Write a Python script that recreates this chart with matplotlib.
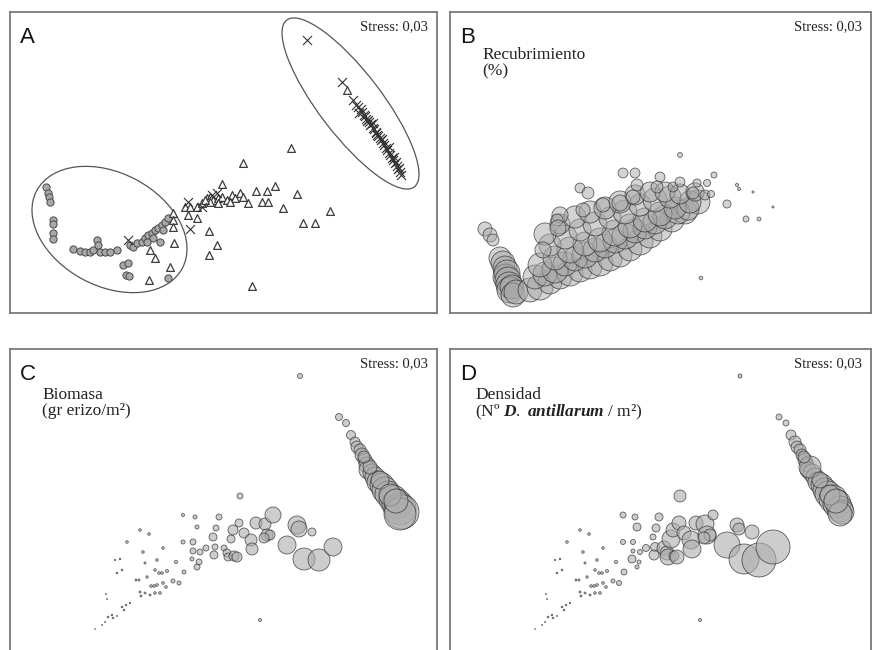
import matplotlib
matplotlib.use("Agg")
import matplotlib.pyplot as plt
from matplotlib.patches import Ellipse
import numpy as np

W, H, DPI = 872, 650, 100
PX = 72.0 / DPI  # points per pixel

# ---------------- Panel A: nMDS ordination by group ----------------
# coordinates in panel units (x to the right, y downwards)
a_circ_x = [36, 38, 39, 40, 43, 43, 43, 43,
            63, 70, 75, 80, 83, 87, 88, 90, 95, 100, 107,
            120, 123, 127, 132, 135, 138, 142, 145, 148, 152, 155, 158, 153, 137, 143, 150,
            113, 118, 116, 119, 158]
a_circ_y = [175, 181, 185, 190, 208, 212, 221, 227,
            237, 239, 240, 240, 238, 228, 233, 240, 240, 240, 238,
            233, 235, 231, 230, 226, 223, 221, 218, 216, 213, 210, 206, 218, 230, 226, 230,
            253, 251, 263, 264, 266]
a_tri_x = [163, 163, 163, 164, 160, 139, 140, 145,
           175, 180, 187, 178, 187, 192, 197, 200, 203, 208, 212, 212, 217, 222, 225,
           230, 233, 238, 246, 257, 265, 252, 258, 273, 287, 293, 305, 320, 233, 281,
           199, 207, 199, 242, 337, 220, 208, 200, 195]
a_tri_y = [201, 208, 215, 231, 255, 268, 238, 246,
           195, 195, 195, 203, 206, 191, 186, 185, 188, 186, 172, 185, 188, 183, 186,
           181, 185, 191, 179, 179, 174, 190, 190, 196, 182, 211, 211, 199, 151, 136,
           219, 233, 243, 274, 78, 190, 191, 190, 188]
a_cross_x = [178, 180, 207, 192, 202, 118,
             297, 332, 343, 346, 348, 351, 352, 354, 355, 356, 358, 359, 360, 361, 363,
             364, 366, 367, 368, 370, 371, 373, 374, 376, 377, 379, 380, 382, 383, 385,
             387, 388, 390, 391, 349, 357, 363, 366, 372, 379, 384, 386, 389]
a_cross_y = [190, 217, 181, 195, 183, 228,
             28, 70, 88, 93, 95, 97, 100, 103, 104, 107, 108, 110, 113, 112, 116,
             117, 120, 123, 124, 126, 128, 131, 133, 136, 138, 141, 143, 146, 148, 151,
             154, 157, 160, 163, 101, 109, 111, 121, 127, 135, 145, 150, 156]
# group envelopes: centre x, centre y, width, height, angle
a_env_cx = [99.5, 340.5]
a_env_cy = [217.5, 91.5]
a_env_w = [165, 210]
a_env_h = [113, 63]
a_env_ang = [28, 52.6]

# ---------------- Panel B: cover (%) bubbles ----------------
b_x = [35, 40, 43,
       50, 53, 55, 56, 57, 58, 59, 60, 62, 63, 66,
       80, 90, 100, 110, 120, 130, 140, 150, 160, 170, 180, 190, 200, 210, 222, 235, 248,
       85, 95, 105, 115, 125, 135, 145, 155, 165, 175, 185, 195, 205, 215, 228, 238,
       90, 105, 120, 135, 150, 165, 180, 195, 210, 225, 240,
       100, 115, 130, 145, 160, 175, 190, 205, 220,
       95, 110, 125, 140, 155, 170, 185, 200, 215, 230, 245,
       130, 138, 153, 133, 110, 107, 108, 93, 173, 185, 187, 210, 207, 183, 170, 223, 230,
       243, 247, 257, 255, 261, 264, 230, 277, 296, 309, 287, 289, 303, 323, 251]
b_y = [217, 223, 228,
       246, 251, 256, 265, 261, 268, 273, 278, 275, 283, 280,
       278, 275, 270, 265, 261, 258, 255, 251, 247, 243, 237, 230, 224, 217, 208, 200, 190,
       265, 262, 258, 252, 247, 243, 238, 234, 229, 224, 219, 215, 210, 205, 200, 197,
       253, 246, 238, 232, 228, 221, 214, 208, 202, 196, 190,
       233, 225, 218, 212, 206, 200, 193, 188, 185,
       222, 212, 205, 200, 196, 190, 183, 180, 180, 182, 180,
       176, 181, 193, 198, 203, 208, 216, 238, 161, 161, 173, 165, 175, 185, 191, 175, 170,
       181, 171, 171, 183, 182, 163, 143, 192, 207, 207, 173, 177, 180, 195, 266]
b_cover = [54, 54, 46,
           85, 92, 92, 100, 100, 100, 100, 100, 92, 92, 92,
           92, 100, 92, 92, 100, 92, 92, 100, 92, 92, 92, 100, 92, 92, 92, 92, 92,
           92, 92, 100, 92, 92, 100, 92, 92, 92, 100, 92, 92, 92, 92, 92, 85,
           92, 92, 100, 92, 92, 100, 92, 92, 92, 85, 85,
           85, 92, 85, 92, 85, 92, 85, 92, 85,
           85, 77, 85, 85, 85, 85, 77, 77, 77, 77, 70,
           38, 46, 54, 54, 62, 46, 62, 62, 38, 38, 46, 38, 46, 54, 62, 38, 38,
           46, 31, 27, 38, 27, 23, 19, 31, 23, 15, 12, 12, 8, 8, 14]

# ---------------- Panels C and D: shared ordination ----------------
cd_x = [329, 336, 341, 345, 347, 350, 352, 355, 357, 358, 362, 365, 368, 372, 375,
        378, 383, 387, 390, 392, 390, 360, 354, 370, 380, 386,
        290, 250,
        230, 209, 206, 203, 205, 204, 196, 190, 185, 173, 187, 183, 173, 183, 182, 189,
        187, 174, 169, 163, 214, 217, 218, 224, 227, 221, 223, 229, 234, 241, 242, 246,
        255, 257, 260, 263, 254, 277, 287, 289, 302, 294, 309, 323,
        130, 139, 117, 133, 153, 147, 135, 166, 110, 105, 112, 107, 145, 149, 152, 157,
        137, 126, 129, 141, 144, 147, 153, 156, 130, 135, 140, 145, 150, 131, 96, 97,
        112, 116, 114, 120, 102, 103, 98, 95, 92, 85, 107]
cd_y = [68, 74, 86, 93, 98, 101, 106, 111, 116, 121, 124, 128, 133, 136, 141,
        145, 150, 155, 160, 163, 165, 118, 108, 131, 146, 152,
        27, 271,
        147, 168, 179, 188, 198, 206, 199, 203, 168, 166, 178, 193, 193, 202, 210, 213,
        218, 223, 234, 232, 199, 204, 208, 207, 208, 190, 181, 174, 184, 191, 200, 174,
        175, 186, 186, 166, 189, 196, 176, 180, 183, 210, 211, 198,
        181, 185, 193, 203, 199, 211, 214, 213, 210, 211, 221, 224, 221, 224, 224, 222,
        228, 231, 231, 237, 237, 236, 234, 238, 243, 244, 246, 244, 244, 247, 245, 250,
        258, 256, 261, 254, 266, 269, 268, 273, 276, 280, 267]
cd_biomasa = [3.5, 3.5, 4.5, 5, 6, 6, 7, 7, 8, 9, 9, 10, 11, 12, 13,
              13, 14, 15, 16, 17, 16, 7, 6, 9, 11, 12,
              2.5, 1.5,
              3, 3, 3, 4, 3, 4, 3, 3, 2, 1.5, 2, 3, 2, 3, 2, 3,
              3, 2, 2, 2, 3, 4, 4, 5, 5, 4, 5, 4, 5, 6, 6, 6,
              6, 6, 5, 8, 5, 9, 9, 8, 4, 11, 11, 9,
              1.3, 1.3, 1.3, 1.3, 1.3, 1.3, 1, 1.5, 0.8, 0.6, 0.8, 0.8, 1.3, 1.3, 1.3, 1.5,
              1.2, 1, 1, 1.3, 1.3, 1.3, 1.3, 1.3, 1, 1, 1, 1.3, 1.3, 1, 0.5, 0.5,
              0.8, 0.8, 0.8, 0.7, 0.8, 0.8, 0.8, 0.5, 0.5, 0.4, 0.5]
cd_densidad = [3, 3, 5, 6, 6, 6, 6, 7, 7, 8, 9, 9, 10, 11, 12,
               13, 14, 14, 13, 12, 12, 11, 6, 8, 10, 12,
               2, 1.5,
               6, 4, 4, 3, 4.5, 5, 3.5, 2.5, 3, 3, 4, 2.5, 2.5, 2, 4, 2,
               2, 3, 2.5, 2, 7, 7, 8, 5, 7, 9, 7, 7, 7, 9, 9, 7,
               9, 9, 6, 5, 6, 13, 7, 6, 7, 15, 17, 17,
               1.3, 1.3, 1.3, 1.3, 1.3, 1.3, 1, 1.5, 0.8, 0.6, 0.8, 0.8, 1.3, 1.3, 1.3, 1.5,
               1.2, 1, 1, 1.3, 1.3, 1.3, 1.3, 1.3, 1, 1, 1, 1.3, 1.3, 1, 0.5, 0.5,
               0.8, 0.8, 0.8, 0.7, 0.8, 0.8, 0.8, 0.5, 0.5, 0.4, 0.5]

panel_letters = ["A", "B", "C", "D"]
stress_label = "Stress: 0,03"

plt.rcParams["font.family"] = ["Liberation Serif", "DejaVu Serif"]
plt.rcParams["mathtext.fontset"] = "custom"
plt.rcParams["mathtext.rm"] = "Liberation Serif"
plt.rcParams["mathtext.it"] = "Liberation Serif:italic:bold"
fig = plt.figure(figsize=(W / DPI, H / DPI), dpi=DPI)

# panel rectangles in pixels: left, top, width, height
rects = [(10, 12, 427, 301), (450, 12, 421, 301), (10, 349, 427, 301), (450, 349, 421, 301)]
FRAME = "#7a7a7a"


def make_axes(rect, open_bottom=False):
    l, t, w, h = rect
    ax = fig.add_axes([l / W, 1 - (t + h) / H, w / W, h / H])
    ax.set_xlim(0, w)
    ax.set_ylim(h, 0)
    ax.set_xticks([])
    ax.set_yticks([])
    for s in ax.spines.values():
        s.set_color(FRAME)
        s.set_linewidth(1.3)
    if open_bottom:
        ax.spines["bottom"].set_visible(False)
    return ax


def bubble_sizes(radius_px):
    return (2 * np.asarray(radius_px, dtype=float) * PX) ** 2


axes = [make_axes(rects[0]), make_axes(rects[1]),
        make_axes(rects[2], True), make_axes(rects[3], True)]

for ax, letter in zip(axes, panel_letters):
    ax.text(10, 15, letter, family="Liberation Sans", fontsize=16,
            ha="left", va="top", color="#111111")
    w = ax.get_xlim()[1]
    ax.text(w - 9, 8.5, stress_label, fontsize=10.5, ha="right", va="top", color="#222222")

# Panel A
axA = axes[0]
axA.scatter(a_circ_x, a_circ_y, s=(5.2) ** 2, marker="o", facecolor="#a8a8a8",
            edgecolor="#4a4a4a", linewidths=0.7, zorder=3)
axA.scatter(a_tri_x, a_tri_y, s=(5.6) ** 2, marker="^", facecolor="white",
            edgecolor="#3c3c3c", linewidths=0.9, zorder=4)
axA.scatter(a_cross_x, a_cross_y, s=(6.5) ** 2, marker="x", color="#333333",
            linewidths=0.8, zorder=5)
for cx, cy, ew, eh, ang in zip(a_env_cx, a_env_cy, a_env_w, a_env_h, a_env_ang):
    axA.add_patch(Ellipse((cx, cy), ew, eh, angle=ang, fill=False,
                          edgecolor="#555555", linewidth=0.9, zorder=2))

# Panel B
axB = axes[1]
axB.scatter(b_x, b_y, s=bubble_sizes(np.asarray(b_cover) * 0.13), marker="o",
            facecolor=(0.66, 0.66, 0.66, 0.5), edgecolor=(0.15, 0.15, 0.15, 0.7),
            linewidths=0.6, zorder=3)
axB.text(32, 35, "Recubrimiento\n(%)", fontsize=12.5, ha="left", va="top",
         color="#222222", linespacing=1.0)

# Panels C and D
bubble_style = dict(marker="o", facecolor=(0.68, 0.68, 0.68, 0.6),
                    edgecolor=(0.18, 0.18, 0.18, 0.75), linewidths=0.6, zorder=3)
axes[2].scatter(cd_x, cd_y, s=bubble_sizes(cd_biomasa), **bubble_style)
axes[3].scatter(cd_x, cd_y, s=bubble_sizes(cd_densidad), **bubble_style)
axes[2].text(32, 38, "Biomasa\n(gr erizo/m\u00b2)", fontsize=12.5, ha="left", va="top",
             color="#222222", linespacing=1.0)
axes[3].text(25, 38, "Densidad\n(N\u00ba $D.$ $antillarum$ / m\u00b2)", fontsize=12.5,
             ha="left", va="top", color="#222222", linespacing=1.0)

fig.savefig("out.png", dpi=DPI)
